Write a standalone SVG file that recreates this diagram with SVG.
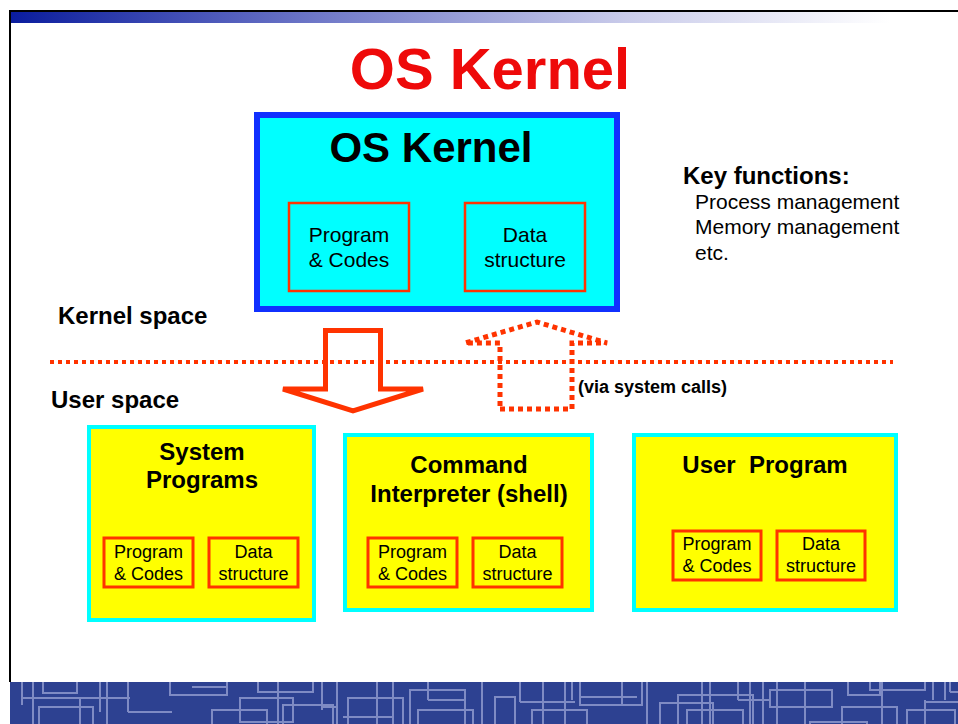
<svg xmlns="http://www.w3.org/2000/svg" width="958" height="724" viewBox="0 0 958 724">
<defs>
<linearGradient id="topbar" x1="0" y1="0" x2="1" y2="0">
<stop offset="0" stop-color="#0a1c9e"/>
<stop offset="0.35" stop-color="#6f78c8"/>
<stop offset="0.7" stop-color="#c9cbea"/>
<stop offset="1" stop-color="#ffffff"/>
</linearGradient>
<clipPath id="bandclip"><rect x="10" y="682" width="948" height="42"/></clipPath>
<style>
text{font-family:"Liberation Sans",Arial,Helvetica,sans-serif;fill:#000}
.b{font-weight:bold}
.yb{fill:#ffff00;stroke:#00ffff;stroke-width:4}
.ib{fill:none;stroke:#ff3300;stroke-width:3}
.kb{fill:none;stroke:#ff3300;stroke-width:2.5}
.t18{font-size:18px;text-anchor:middle}
.t21{font-size:21px;text-anchor:middle}
.h24{font-size:24px;font-weight:bold;text-anchor:middle}
.dot{fill:none;stroke:#ff3300;stroke-width:4}
.pat{fill:none;stroke:#7f8bc4;stroke-width:2}
</style>
</defs>
<rect width="958" height="724" fill="#ffffff"/>
<!-- slide frame -->
<rect x="10" y="12" width="880" height="11" fill="url(#topbar)"/>
<line x1="9" y1="11" x2="958" y2="11" stroke="#000" stroke-width="2"/>
<line x1="10" y1="10" x2="10" y2="682" stroke="#000" stroke-width="2"/>
<!-- bottom band -->
<rect x="10" y="682" width="948" height="42" fill="#2d4191"/>
<g clip-path="url(#bandclip)" class="pat">
<line x1="22" y1="676" x2="22" y2="705"/>
<line x1="33" y1="676" x2="33" y2="730"/>
<rect x="43" y="676" width="34" height="17"/>
<line x1="22" y1="698" x2="130" y2="698"/>
<rect x="39" y="707" width="54" height="22"/>
<line x1="80" y1="698" x2="80" y2="730"/>
<line x1="100" y1="676" x2="100" y2="712"/>
<line x1="107" y1="676" x2="107" y2="730"/>
<line x1="128" y1="676" x2="128" y2="712"/>
<line x1="128" y1="712" x2="172" y2="712"/>
<rect x="170" y="676" width="57" height="19"/>
<line x1="192" y1="687" x2="227" y2="687"/>
<rect x="212" y="710" width="55" height="20"/>
<rect x="240" y="698" width="53" height="24"/>
<rect x="258" y="676" width="55" height="16"/>
<line x1="278" y1="676" x2="278" y2="730"/>
<rect x="283" y="705" width="50" height="25"/>
<line x1="322" y1="676" x2="322" y2="710"/>
<line x1="322" y1="707" x2="337" y2="707"/>
<line x1="337" y1="676" x2="337" y2="730"/>
<rect x="348" y="698" width="55" height="32"/>
<line x1="343" y1="717" x2="393" y2="717"/>
<line x1="377" y1="676" x2="377" y2="730"/>
<line x1="393" y1="676" x2="393" y2="730"/>
<rect x="410" y="690" width="55" height="40"/>
<line x1="428" y1="676" x2="428" y2="700"/>
<line x1="428" y1="700" x2="465" y2="700"/>
<rect x="418" y="710" width="55" height="20"/>
<line x1="482" y1="676" x2="482" y2="730"/>
<rect x="495" y="697" width="20" height="33"/>
<line x1="520" y1="676" x2="520" y2="702"/>
<line x1="520" y1="702" x2="575" y2="702"/>
<line x1="543" y1="676" x2="543" y2="730"/>
<rect x="532" y="710" width="55" height="20"/>
<line x1="565" y1="676" x2="565" y2="730"/>
<line x1="572" y1="676" x2="572" y2="700"/>
<rect x="580" y="676" width="62" height="29"/>
<line x1="580" y1="697" x2="637" y2="697"/>
<line x1="622" y1="676" x2="622" y2="705"/>
<line x1="647" y1="676" x2="647" y2="730"/>
<rect x="660" y="703" width="53" height="27"/>
<rect x="678" y="695" width="75" height="35"/>
<line x1="702" y1="676" x2="702" y2="730"/>
<line x1="710" y1="676" x2="710" y2="730"/>
<rect x="687" y="710" width="56" height="20"/>
<line x1="738" y1="676" x2="738" y2="700"/>
<line x1="738" y1="700" x2="770" y2="700"/>
<line x1="750" y1="676" x2="750" y2="730"/>
<line x1="763" y1="676" x2="763" y2="730"/>
<rect x="770" y="690" width="62" height="17"/>
<line x1="777" y1="676" x2="777" y2="730"/>
<line x1="805" y1="676" x2="805" y2="730"/>
<rect x="810" y="722" width="57" height="10"/>
<rect x="842" y="707" width="55" height="23"/>
<rect x="848" y="676" width="32" height="19"/>
<rect x="870" y="676" width="55" height="14"/>
<line x1="882" y1="676" x2="882" y2="730"/>
<rect x="907" y="710" width="48" height="20"/>
<line x1="925" y1="700" x2="925" y2="730"/>
<line x1="925" y1="702" x2="958" y2="702"/>
<line x1="933" y1="676" x2="933" y2="700"/>
<line x1="945" y1="676" x2="945" y2="700"/>
<line x1="950" y1="676" x2="950" y2="692"/>
<line x1="950" y1="692" x2="958" y2="692"/>
</g>
<!-- title -->
<text x="490" y="89" class="b" style="font-size:58px;fill:#ee0a0a;text-anchor:middle">OS Kernel</text>
<!-- kernel node -->
<g id="kernel">
<rect x="257" y="115" width="360" height="194" fill="#00ffff" stroke="#1030ff" stroke-width="6"/>
<text x="431" y="162" class="b" style="font-size:42px;text-anchor:middle">OS Kernel</text>
<rect x="289" y="203" width="120" height="88" class="kb"/>
<text x="349" y="242" class="t21">Program</text>
<text x="349" y="267" class="t21">&amp; Codes</text>
<rect x="465" y="203" width="120" height="88" class="kb"/>
<text x="525" y="242" class="t21">Data</text>
<text x="525" y="267" class="t21">structure</text>
</g>
<!-- key functions -->
<g id="keyfunctions">
<text x="683" y="184" class="b" style="font-size:24px">Key functions:</text>
<text x="695" y="209" style="font-size:21px">Process management</text>
<text x="695" y="234" style="font-size:21px">Memory management</text>
<text x="695" y="260" style="font-size:21px">etc.</text>
</g>
<!-- space labels -->
<text x="58" y="324" class="b" style="font-size:24px">Kernel space</text>
<text x="51" y="408" class="b" style="font-size:24px">User space</text>
<!-- connectors -->
<g id="connectors">
<polygon points="325.5,330.5 380.5,330.5 380.5,389 423,389 353,411 283,389 325.5,389" fill="#ffffff" stroke="#ff3300" stroke-width="5" stroke-linejoin="miter"/>
<polygon points="500,409 572,409 572,343 607,343 537,322 465,343 500,343" fill="none" stroke="#ff3300" stroke-width="5" stroke-dasharray="5 4"/>
<line x1="50" y1="362" x2="893" y2="362" class="dot" stroke-dasharray="4 4"/>
<text x="578" y="393" class="b" style="font-size:18px">(via system calls)</text>
</g>
<!-- system programs -->
<g id="sysprog">
<rect x="89" y="427" width="225" height="193" class="yb"/>
<text x="202" y="460" class="h24">System</text>
<text x="202" y="488" class="h24">Programs</text>
<rect x="104" y="538" width="89" height="49" class="ib"/>
<text x="148.5" y="558" class="t18">Program</text>
<text x="148.5" y="580" class="t18">&amp; Codes</text>
<rect x="209" y="538" width="89" height="49" class="ib"/>
<text x="253.5" y="558" class="t18">Data</text>
<text x="253.5" y="580" class="t18">structure</text>
</g>
<!-- command interpreter -->
<g id="shell">
<rect x="345" y="435" width="247" height="175" class="yb"/>
<text x="469" y="473" class="h24">Command</text>
<text x="469" y="502" class="h24">Interpreter (shell)</text>
<rect x="368" y="538" width="89" height="49" class="ib"/>
<text x="412.5" y="558" class="t18">Program</text>
<text x="412.5" y="580" class="t18">&amp; Codes</text>
<rect x="473" y="538" width="89" height="49" class="ib"/>
<text x="517.5" y="558" class="t18">Data</text>
<text x="517.5" y="580" class="t18">structure</text>
</g>
<!-- user program -->
<g id="userprog">
<rect x="634" y="435" width="262" height="175" class="yb"/>
<text x="765" y="473" class="h24" style="white-space:pre">User  Program</text>
<rect x="673" y="531" width="88" height="49" class="ib"/>
<text x="717" y="550" class="t18">Program</text>
<text x="717" y="572" class="t18">&amp; Codes</text>
<rect x="777" y="531" width="88" height="49" class="ib"/>
<text x="821" y="550" class="t18">Data</text>
<text x="821" y="572" class="t18">structure</text>
</g>
</svg>
